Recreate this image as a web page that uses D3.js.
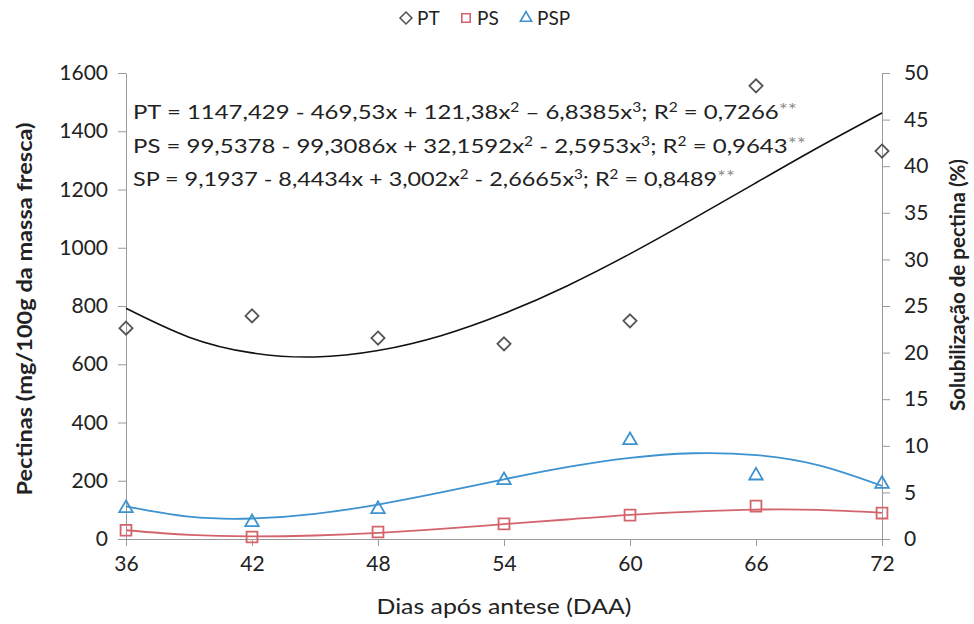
<!DOCTYPE html>
<html lang="pt">
<head>
<meta charset="UTF-8">
<title>Pectinas</title>
<script src="https://cdn.jsdelivr.net/npm/d3@7"></script>
<style>
  body { margin: 0; background: #fff; }
  svg { display: block; font-family: Lato, "Open Sans", sans-serif; }
  .axis path, .axis line { stroke: #9a9a9a; }
  .axis text { font-size: 21px; fill: #222; font-family: Lato, sans-serif; }
</style>
</head>
<body>
<svg id="chart" width="974" height="624"></svg>
<script>
// dias após antese
const days = [36, 42, 48, 54, 60, 66, 72];
// observed values
const ptValues = [724, 766, 690, 670, 749, 1556, 1332];   // mg/100g
const psValues = [30, 7, 24, 52, 82, 113, 89];            // mg/100g
const pspValues = [3.3, 1.8, 3.2, 6.3, 10.6, 6.8, 5.9];    // %

// trend lines every 3 days
const fitDays = [36, 39, 42, 45, 48, 51, 54, 57, 60, 63, 66, 69, 72];
const ptFit = [792, 693, 639, 625, 647, 698, 774, 869, 979, 1099, 1223, 1346, 1463];
const psFit = [30, 14, 9, 12, 21, 35, 51, 67, 83, 94, 101, 100, 90];
const pspFit = [3.5, 2.4, 2.2, 2.7, 3.7, 5.0, 6.4, 7.7, 8.7, 9.2, 9.0, 7.9, 5.7];

const leftTicks = [0, 200, 400, 600, 800, 1000, 1200, 1400, 1600];
const rightTicks = [0, 5, 10, 15, 20, 25, 30, 35, 40, 45, 50];

// equation pieces: [text, kind] kind 0 = normal, 1 = superscript, 2 = asterisks
const equations = [
  [["PT = 1147,429 - 469,53x + 121,38x", 0], ["2", 1], [" – 6,8385x", 0], ["3", 1], ["; R", 0], ["2", 1], [" = 0,7266", 0], ["**", 2]],
  [["PS = 99,5378 - 99,3086x + 32,1592x", 0], ["2", 1], [" - 2,5953x", 0], ["3", 1], ["; R", 0], ["2", 1], [" = 0,9643", 0], ["**", 2]],
  [["SP = 9,1937 - 8,4434x + 3,002x", 0], ["2", 1], [" - 2,6665x", 0], ["3", 1], ["; R", 0], ["2", 1], [" = 0,8489", 0], ["**", 2]]
];
const eqWidths = [664, 673, 602];

const colPT = "#555555", colPS = "#d4646c", colPSP = "#3d92d0";

const svg = d3.select("#chart");
const x = d3.scaleLinear().domain([36, 72]).range([126, 882]);
const yL = d3.scaleLinear().domain([0, 1600]).range([539, 73]);
const yR = d3.scaleLinear().domain([0, 50]).range([539, 73]);

// axes
svg.append("g").attr("class", "axis")
  .attr("transform", "translate(0,539)")
  .call(d3.axisBottom(x).tickValues(days).tickSize(7).tickSizeOuter(0).tickPadding(10));

svg.append("g").attr("class", "axis")
  .attr("transform", "translate(126,0)")
  .call(d3.axisLeft(yL).tickValues(leftTicks).tickFormat(d3.format("d")).tickSize(8).tickSizeOuter(0).tickPadding(10));

svg.append("g").attr("class", "axis")
  .attr("transform", "translate(882,0)")
  .call(d3.axisRight(yR).tickValues(rightTicks).tickSize(8).tickSizeOuter(0).tickPadding(14));

// trend lines
const line = (ys) => d3.line().x((d, i) => x(fitDays[i])).y(d => ys(d)).curve(d3.curveNatural);
svg.append("path").datum(ptFit).attr("d", line(yL))
  .attr("fill", "none").attr("stroke", "#111").attr("stroke-width", 1.6);
svg.append("path").datum(psFit).attr("d", line(yL))
  .attr("fill", "none").attr("stroke", colPS).attr("stroke-width", 1.8);
svg.append("path").datum(pspFit).attr("d", line(yR))
  .attr("fill", "none").attr("stroke", colPSP).attr("stroke-width", 1.8);

// markers
const diamond = d3.symbol().type(d3.symbolDiamond2).size(110);
const square = d3.symbol().type(d3.symbolSquare2).size(150);
const triangle = d3.symbol().type(d3.symbolTriangle2).size(130);

function markers(vals, ys, sym, col) {
  svg.append("g").selectAll("path").data(vals).join("path")
    .attr("transform", (d, i) => `translate(${x(days[i])},${ys(d)})`)
    .attr("d", sym).attr("fill", "none").attr("stroke", col).attr("stroke-width", 1.8);
}
markers(ptValues, yL, diamond, colPT);
markers(psValues, yL, square, colPS);
markers(pspValues, yR, triangle, colPSP);

// equations
const eq = svg.append("g").selectAll("text").data(equations).join("text")
  .attr("x", 133).attr("y", (d, i) => 119 + i * 33.5)
  .attr("font-size", 20).attr("fill", "#222")
  .attr("textLength", (d, i) => eqWidths[i]).attr("lengthAdjust", "spacingAndGlyphs");
eq.selectAll("tspan").data(d => d).join("tspan")
  .attr("font-size", d => d[1] === 1 ? 13 : d[1] === 2 ? 18 : 20)
  .attr("dy", (d, i, n) => {
    const prev = i > 0 ? n[i - 1].__data__[1] : 0;
    const shift = k => k === 1 ? -7 : k === 2 ? -3 : 0;
    return shift(d[1]) - shift(prev);
  })
  .attr("fill", d => d[1] === 2 ? "#8a8a8a" : "#222")
  .text(d => d[0]);

// axis titles
svg.append("text").attr("x", 504).attr("y", 614).attr("text-anchor", "middle")
  .attr("font-size", 22).attr("fill", "#222")
  .attr("textLength", 255).attr("lengthAdjust", "spacingAndGlyphs")
  .text("Dias após antese (DAA)");
svg.append("text").attr("transform", "translate(32,309) rotate(-90)")
  .attr("text-anchor", "middle").attr("font-size", 21).attr("font-weight", "bold")
  .attr("textLength", 373).attr("lengthAdjust", "spacingAndGlyphs")
  .attr("fill", "#222").text("Pectinas (mg/100g da massa fresca)");
svg.append("text").attr("transform", "translate(965,285) rotate(-90)")
  .attr("text-anchor", "middle").attr("font-size", 20).attr("font-weight", "bold")
  .attr("textLength", 252).attr("lengthAdjust", "spacingAndGlyphs")
  .attr("fill", "#222").text("Solubilização de pectina (%)");

// legend
const legend = [
  { name: "PT", sym: diamond, col: colPT, x: 406 },
  { name: "PS", sym: square, col: colPS, x: 466 },
  { name: "PSP", sym: triangle, col: colPSP, x: 526 }
];
const lg = svg.append("g").selectAll("g").data(legend).join("g")
  .attr("transform", d => `translate(${d.x},18)`);
lg.append("path").attr("d", d => d.sym.size(90)()).attr("fill", "none")
  .attr("stroke", d => d.col).attr("stroke-width", 1.6);
lg.append("text").attr("x", 11).attr("y", 7).attr("font-size", 19).attr("fill", "#222")
  .text(d => d.name);
</script>
</body>
</html>
